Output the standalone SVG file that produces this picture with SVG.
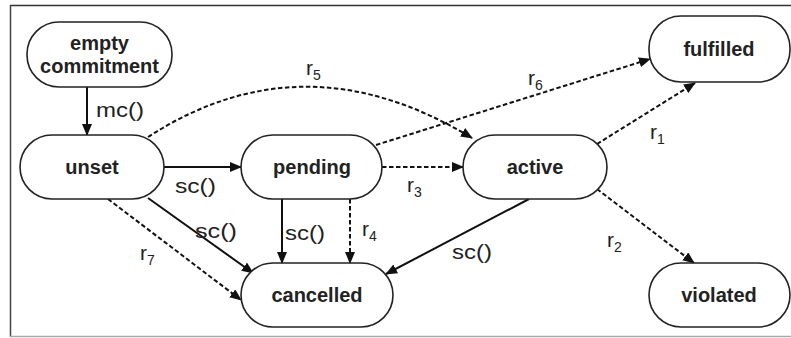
<svg xmlns="http://www.w3.org/2000/svg" width="791" height="338" viewBox="0 0 791 338">
<style>
.node rect{fill:#fff;stroke:#222;stroke-width:1.6}
.nt{font-family:"Liberation Sans",Arial,sans-serif;font-weight:bold;font-size:20px;fill:#222;text-anchor:middle}
.lb{font-family:"Liberation Sans",Arial,sans-serif;font-size:21px;fill:#222}
.sub{font-size:14px}
.solid{fill:none;stroke:#111;stroke-width:2}
.dash{fill:none;stroke:#111;stroke-width:2;stroke-dasharray:4.5 2.5}
</style>
<defs>
<marker id="ah" markerUnits="userSpaceOnUse" markerWidth="12" markerHeight="10" refX="11" refY="5" orient="auto">
<path d="M0,0 L12,5 L0,10 Z" fill="#111"/>
</marker>
</defs>
<rect x="0" y="0" width="791" height="338" fill="#fff"/>
<line x1="10" y1="5.5" x2="791" y2="5.5" stroke="#333" stroke-width="1.5"/>
<line x1="10.5" y1="5" x2="10.5" y2="337" stroke="#444" stroke-width="1.5"/>
<line x1="10" y1="336.5" x2="791" y2="336.5" stroke="#aaa" stroke-width="1.5"/>

<g id="connectors">
<line class="solid" x1="87" y1="87" x2="87" y2="135" marker-end="url(#ah)"/>
<line class="solid" x1="164" y1="167" x2="241" y2="167" marker-end="url(#ah)"/>
<line class="solid" x1="148" y1="198" x2="253" y2="273" marker-end="url(#ah)"/>
<line class="dash" x1="108" y1="199" x2="241" y2="300" marker-end="url(#ah)"/>
<line class="solid" x1="282" y1="199" x2="282" y2="263" marker-end="url(#ah)"/>
<line class="dash" x1="350" y1="199" x2="350" y2="263" marker-end="url(#ah)"/>
<line class="solid" x1="529" y1="199" x2="386" y2="274" marker-end="url(#ah)"/>
<line class="dash" x1="382" y1="167" x2="463" y2="167" marker-end="url(#ah)"/>
<line class="dash" x1="376" y1="145" x2="650" y2="59" marker-end="url(#ah)"/>
<path class="dash" d="M148,137 Q304,36 472,138" marker-end="url(#ah)"/>
<line class="dash" x1="597" y1="144" x2="695" y2="83" marker-end="url(#ah)"/>
<line class="dash" x1="597" y1="189" x2="694" y2="263" marker-end="url(#ah)"/>

<text class="lb" x="96" y="117" textLength="48" lengthAdjust="spacingAndGlyphs">mc()</text>
<text class="lb" x="175" y="193" textLength="41" lengthAdjust="spacingAndGlyphs">sc()</text>
<text class="lb" x="195" y="238" textLength="42" lengthAdjust="spacingAndGlyphs">sc()</text>
<text class="lb" x="285" y="240" textLength="40" lengthAdjust="spacingAndGlyphs">sc()</text>
<text class="lb" x="452" y="259" textLength="40" lengthAdjust="spacingAndGlyphs">sc()</text>
<text class="lb" x="140" y="260">r<tspan class="sub" dy="5">7</tspan></text>
<text class="lb" x="362" y="236">r<tspan class="sub" dy="5">4</tspan></text>
<text class="lb" x="407" y="192">r<tspan class="sub" dy="5">3</tspan></text>
<text class="lb" x="528" y="85">r<tspan class="sub" dy="5">6</tspan></text>
<text class="lb" x="306" y="75">r<tspan class="sub" dy="5">5</tspan></text>
<text class="lb" x="650" y="139">r<tspan class="sub" dy="5">1</tspan></text>
<text class="lb" x="607" y="247">r<tspan class="sub" dy="5">2</tspan></text>
</g>

<g id="empty" class="node">
<rect x="27" y="22" width="145" height="65" rx="32" ry="32"/>
<text class="nt" x="99.5" y="50">empty</text>
<text class="nt" x="99.5" y="73">commitment</text>
</g>
<g id="unset" class="node">
<rect x="20" y="135" width="144" height="64" rx="32" ry="32"/>
<text class="nt" x="92" y="174">unset</text>
</g>
<g id="pending" class="node">
<rect x="241" y="135" width="141" height="64" rx="32" ry="32"/>
<text class="nt" x="312" y="174">pending</text>
</g>
<g id="active" class="node">
<rect x="463" y="135" width="144" height="64" rx="32" ry="32"/>
<text class="nt" x="535" y="174">active</text>
</g>
<g id="fulfilled" class="node">
<rect x="649" y="16" width="141" height="66" rx="32" ry="32"/>
<text class="nt" x="719" y="56">fulfilled</text>
</g>
<g id="violated" class="node">
<rect x="649" y="263" width="141" height="64" rx="32" ry="32"/>
<text class="nt" x="719" y="302">violated</text>
</g>
<g id="cancelled" class="node">
<rect x="241" y="263" width="152" height="64" rx="32" ry="32"/>
<text class="nt" x="317" y="302">cancelled</text>
</g>
</svg>
